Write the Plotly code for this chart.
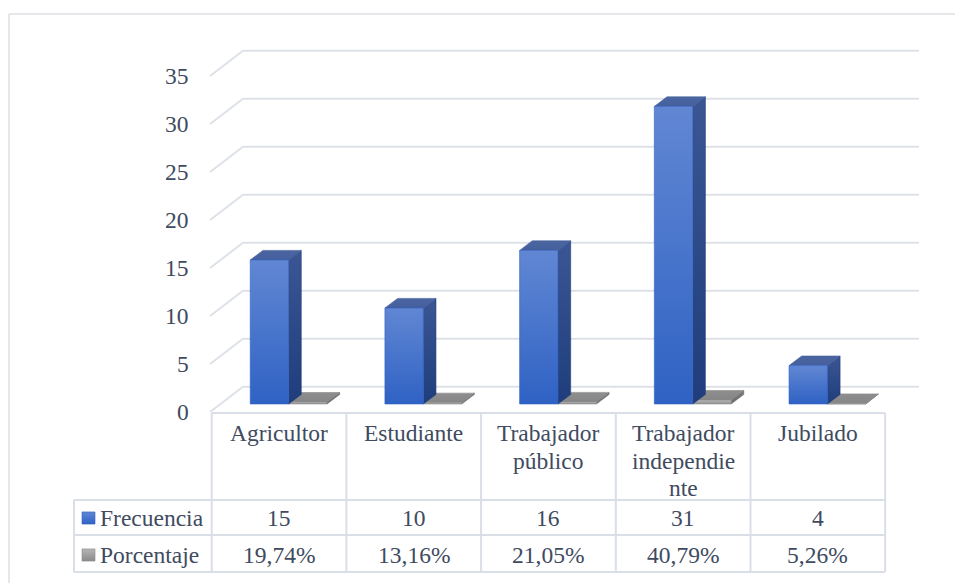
import plotly.graph_objects as go

# ---- data -------------------------------------------------------------
categories = [
    ["Agricultor"],
    ["Estudiante"],
    ["Trabajador", "público"],
    ["Trabajador", "independie", "nte"],
    ["Jubilado"],
]
frecuencia = [15, 10, 16, 31, 4]
porcentaje = [19.74, 13.16, 21.05, 40.79, 5.26]
series_names = ["Frecuencia", "Porcentaje"]
y_ticks = [0, 5, 10, 15, 20, 25, 30, 35]

# ---- canvas / axis mapping --------------------------------------------
W, H = 955, 583
COL_LEFT, COL_W = 211.7, 134.7      # table column origin and width (px)
BASE_PY, PX_PER_UNIT = 404.0, 9.6   # baseline of the bars and vertical scale


def ux(px):
    """canvas x (px) -> category axis units"""
    return (px - COL_LEFT) / COL_W - 0.5


def uy(py):
    """canvas y (px) -> value axis units"""
    return (BASE_PY - py) / PX_PER_UNIT


TEXT = "#404b5f"
GRID = "#dde1e8"
TABLE = "#d9dee7"
FONT = "Liberation Serif, Times New Roman, serif"
FS = 23.5

# 3D look: depth of each column and of the floor/back wall
BAR_W = 0.285
BAR_DX, BAR_DY = 0.094, 1.0
WALL_FRONT_X, WALL_BACK_X, WALL_END_X = ux(210), ux(243), ux(919)
WALL_FRONT_DY, WALL_BACK_DY = -0.833, 1.802

fig = go.Figure()


def face(xs, ys, bottom, top, name):
    fig.add_trace(go.Scatter(
        x=xs + [xs[0]], y=ys + [ys[0]], mode="lines", fill="toself",
        line=dict(width=0.6, color=bottom),
        fillgradient=dict(type="vertical", colorscale=[[0, bottom], [1, top]]),
        hoverinfo="skip", showlegend=False, name=name))


def column(L, v, front, side, top, name):
    R = L + BAR_W
    # side face
    face([R, R + BAR_DX, R + BAR_DX, R], [0, BAR_DY, v + BAR_DY, v],
         side[0], side[1], name)
    # top face
    face([L, R, R + BAR_DX, L + BAR_DX], [v, v, v + BAR_DY, v + BAR_DY],
         top[0], top[1], name)
    # front face
    face([L, R, R, L], [0, 0, v, v], front[0], front[1], name)


for i, (f, p) in enumerate(zip(frecuencia, porcentaje)):
    left_blue = i - 0.214
    left_gray = left_blue + BAR_W
    column(left_gray, p / 100.0,
           ("#8e8e8e", "#b8b8b8"), ("#6c6c6c", "#7a7a7a"), ("#868686", "#8e8e8e"),
           series_names[1])
    column(left_blue, f,
           ("#2f62c4", "#6187d3"), ("#1f3d7c", "#3b5693"), ("#44609d", "#4b65a0"),
           series_names[0])

shapes = []
annotations = []


def label(x, y, text, xanchor="center"):
    annotations.append(dict(
        x=x, y=y, xref="x", yref="y", text=text, showarrow=False,
        xanchor=xanchor, yanchor="middle",
        font=dict(family=FONT, size=FS, color=TEXT)))


# gridlines on the side and back walls
for t in y_ticks:
    shapes.append(dict(
        type="path", xref="x", yref="y", layer="below",
        path=(f"M {WALL_FRONT_X},{t + WALL_FRONT_DY} "
              f"L {WALL_BACK_X},{t + WALL_BACK_DY} "
              f"L {WALL_END_X},{t + WALL_BACK_DY}"),
        line=dict(color=GRID, width=2)))
    label(ux(190.7), t + WALL_FRONT_DY, str(t), "right")

# data table
row_top, row_head, row_f, row_p = uy(413), uy(500), uy(535), uy(572)
n = len(categories)
first_col = ux(74)
shapes.append(dict(type="line", xref="x", yref="y", x0=-0.5, x1=n - 0.5,
                   y0=row_top, y1=row_top, line=dict(color=TABLE, width=2)))
for y in (row_head, row_f, row_p):
    shapes.append(dict(type="line", xref="x", yref="y", x0=first_col, x1=n - 0.5,
                       y0=y, y1=y, line=dict(color=TABLE, width=2)))
for k in range(n + 1):
    shapes.append(dict(type="line", xref="x", yref="y", x0=k - 0.5, x1=k - 0.5,
                       y0=row_top, y1=row_p, line=dict(color=TABLE, width=2)))
shapes.append(dict(type="line", xref="x", yref="y", x0=first_col, x1=first_col,
                   y0=row_head, y1=row_p, line=dict(color=TABLE, width=2)))

# outer chart border
shapes.append(dict(type="line", xref="paper", yref="paper",
                   x0=9 / W, x1=1, y0=1 - 14 / H, y1=1 - 14 / H,
                   line=dict(color="#dcdfe4", width=1.5)))
shapes.append(dict(type="line", xref="paper", yref="paper",
                   x0=9 / W, x1=9 / W, y0=0, y1=1 - 14 / H,
                   line=dict(color="#dcdfe4", width=1.5)))

# category headers
for i, lines in enumerate(categories):
    for k, line in enumerate(lines):
        label(i, uy(433 + 27.5 * k), line)

# value rows
y_f, y_p = uy(518), uy(555)
for i, (f, p) in enumerate(zip(frecuencia, porcentaje)):
    label(i, y_f, str(f))
    label(i, y_p, f"{p:.2f}%".replace(".", ","))

# series names with legend keys
for name, y, colors in ((series_names[0], y_f, ("#2f62c4", "#6187d3")),
                        (series_names[1], y_p, ("#8a8a8a", "#b5b5b5"))):
    x0, x1 = ux(82), ux(95)
    face([x0, x1, x1, x0], [y - 0.63, y - 0.63, y + 0.63, y + 0.63],
         colors[0], colors[1], name)
    label(ux(98), y, name, "left")

fig.update_layout(
    width=W, height=H, margin=dict(l=0, r=0, t=0, b=0),
    paper_bgcolor="white", plot_bgcolor="white",
    font=dict(family=FONT, color=TEXT),
    xaxis=dict(range=[ux(0), ux(W)], visible=False, fixedrange=True),
    yaxis=dict(range=[uy(H), uy(0)], visible=False, fixedrange=True),
    shapes=shapes, annotations=annotations, showlegend=False,
)

fig.write_html("out.html")
